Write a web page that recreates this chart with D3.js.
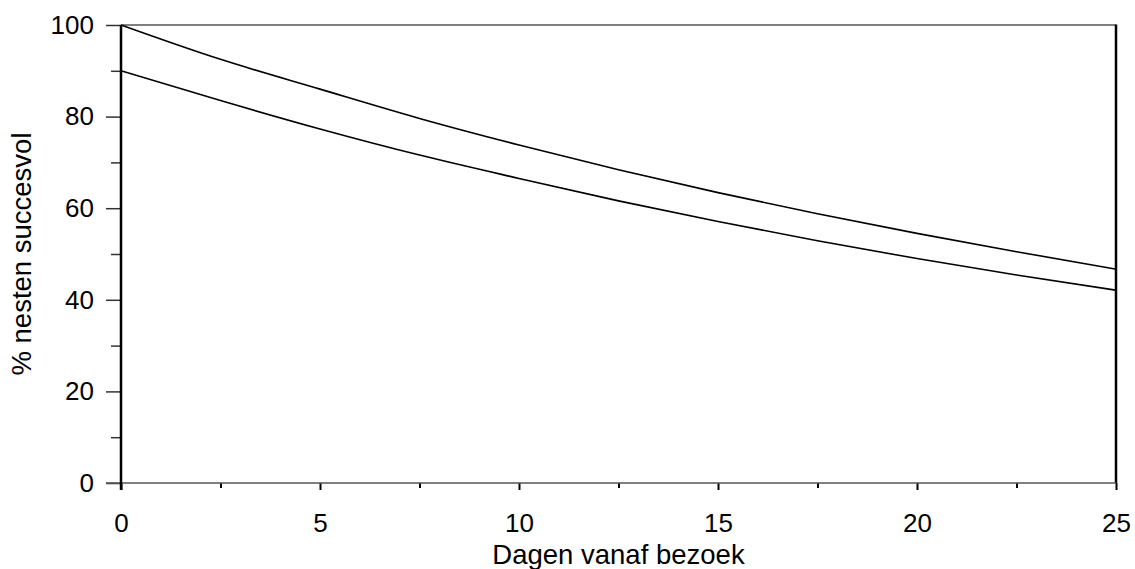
<!DOCTYPE html>
<html>
<head>
<meta charset="utf-8">
<script src="https://cdn.jsdelivr.net/npm/d3@7"></script>
<style>
  html, body { margin: 0; padding: 0; background: #fff; }
  svg { display: block; }
  text { font-family: "Liberation Sans", Arial, Helvetica, sans-serif; }
</style>
</head>
<body>
<svg id="chart" width="1135" height="569"></svg>
<script>
// Data
const days = [0, 2.5, 5, 7.5, 10, 12.5, 15, 17.5, 20, 22.5, 25];
const upperSeries = [100, 92.5, 86.0, 79.6, 73.8, 68.4, 63.4, 58.8, 54.5, 50.5, 46.7];
const lowerSeries = [90, 83.5, 77.3, 71.6, 66.5, 61.6, 57.1, 52.9, 49.0, 45.4, 42.1];
const xMajorTicks = [0, 5, 10, 15, 20, 25];
const xMinorTicks = [2.5, 7.5, 12.5, 17.5, 22.5];
const yMajorTicks = [0, 20, 40, 60, 80, 100];
const yMinorTicks = [10, 30, 50, 70, 90];
const xTitle = "Dagen vanaf bezoek";
const yTitle = "% nesten succesvol";

(function () {
const svg = d3.select("#chart");
const mLeft = 121, mRight = 1116, mTop = 25, mBottom = 483;

const x = d3.scaleLinear().domain([0, 25]).range([mLeft, mRight]);
const y = d3.scaleLinear().domain([0, 100]).range([mBottom, mTop]);

// frame: top gray thin, right black thick
svg.append("line").attr("x1", mLeft).attr("x2", mRight).attr("y1", mTop).attr("y2", mTop)
  .attr("stroke", "#555").attr("stroke-width", 1.5);
svg.append("line").attr("x1", mRight).attr("x2", mRight).attr("y1", mTop - 0.5).attr("y2", mBottom)
  .attr("stroke", "#000").attr("stroke-width", 2.5);

const fontSize = 26;
const titleSize = 27.5;
// Y axis
const yAxisMajor = svg.append("g").attr("transform", `translate(${mLeft},0)`)
  .call(d3.axisLeft(y).tickValues(yMajorTicks).tickSize(15).tickPadding(12).tickFormat(d3.format("d")));
const yAxisMinor = svg.append("g").attr("transform", `translate(${mLeft},0)`)
  .call(d3.axisLeft(y).tickValues(yMinorTicks).tickSize(10).tickFormat(""));
[yAxisMajor, yAxisMinor].forEach(g => {
  g.select(".domain").remove();
  g.selectAll(".tick line").attr("stroke", "#333").attr("stroke-width", 1.5);
  g.selectAll("text").attr("font-size", fontSize).attr("fill", "#000")
    .attr("font-family", "'Liberation Sans', Arial, sans-serif");
});

// X axis
const xAxisMajor = svg.append("g").attr("transform", `translate(0,${mBottom})`)
  .call(d3.axisBottom(x).tickValues(xMajorTicks).tickSize(7).tickPadding(24).tickFormat(d3.format("d")));
const xAxisMinor = svg.append("g").attr("transform", `translate(0,${mBottom})`)
  .call(d3.axisBottom(x).tickValues(xMinorTicks).tickSize(5).tickFormat(""));
[xAxisMajor, xAxisMinor].forEach(g => {
  g.select(".domain").remove();
  g.selectAll(".tick line").attr("stroke", "#000").attr("stroke-width", 2);
  g.selectAll("text").attr("font-size", fontSize).attr("fill", "#000")
    .attr("font-family", "'Liberation Sans', Arial, sans-serif");
});

// bottom gray baseline and left black axis line
svg.append("line").attr("x1", mLeft - 15).attr("x2", mRight).attr("y1", mBottom).attr("y2", mBottom)
  .attr("stroke", "#555").attr("stroke-width", 1.5);
svg.append("line").attr("x1", mLeft).attr("x2", mLeft).attr("y1", mTop).attr("y2", mBottom + 7)
  .attr("stroke", "#000").attr("stroke-width", 2.5);

// lines
const line = d3.line()
  .x((d, i) => x(days[i]))
  .y(d => y(d))
  .curve(d3.curveMonotoneX);

[upperSeries, lowerSeries].forEach(series => {
  svg.append("path").datum(series)
    .attr("d", line)
    .attr("fill", "none")
    .attr("stroke", "#000")
    .attr("stroke-width", 1.6);
});

// titles
svg.append("text").attr("x", (mLeft + mRight) / 2).attr("y", 564)
  .attr("text-anchor", "middle").attr("font-size", titleSize).attr("fill", "#000")
  .text(xTitle);
svg.append("text").attr("transform", `translate(31,${(mTop + mBottom) / 2}) rotate(-90)`)
  .attr("text-anchor", "middle").attr("font-size", titleSize).attr("fill", "#000")
  .text(yTitle);
})();
</script>
</body>
</html>
